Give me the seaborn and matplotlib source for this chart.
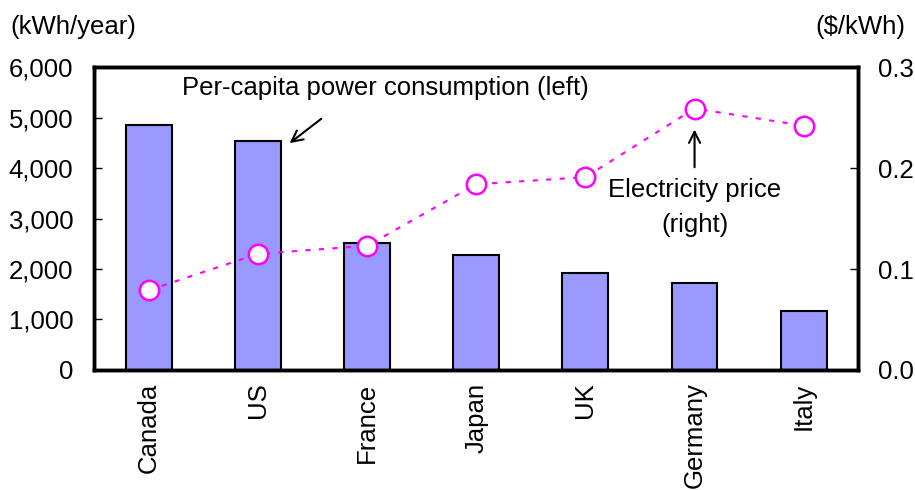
import numpy as np
import pandas as pd
import matplotlib
matplotlib.use("Agg")
import matplotlib.pyplot as plt
import seaborn as sns
from matplotlib.ticker import FuncFormatter, FixedLocator

countries = ["Canada", "US", "France", "Japan", "UK", "Germany", "Italy"]
consumption = [4850, 4530, 2520, 2280, 1920, 1720, 1170]   # kWh/year
price = [0.079, 0.115, 0.123, 0.184, 0.191, 0.259, 0.242]  # $/kWh

sns.set_style("white")
plt.rcParams["font.family"] = ["Liberation Sans", "DejaVu Sans"]
plt.rcParams["text.color"] = "black"
plt.rcParams["xtick.color"] = "black"
plt.rcParams["ytick.color"] = "black"

FS = 18.5

df = pd.DataFrame({"country": countries, "kwh": consumption, "price": price})

fig = plt.figure(figsize=(9.15, 4.9), dpi=100)
ax = fig.add_subplot(111)
fig.subplots_adjust(left=0.103, right=0.938, top=0.863, bottom=0.245)

sns.barplot(data=df, x="country", y="kwh", ax=ax, color="#9999FF",
            edgecolor="black", linewidth=1.5, width=0.42, saturation=1)

ax.set_xlim(-0.5, 6.5)
ax.set_ylim(0, 6000)
ax.set_yticks(np.arange(0, 6001, 1000))
ax.yaxis.set_major_formatter(FuncFormatter(lambda v, _: f"{int(v):,}"))
ax.set_xlabel("")
ax.set_ylabel("")

# category boundary ticks on x
ax.xaxis.set_minor_locator(FixedLocator(np.arange(0.5, 6.5, 1)))
ax.tick_params(axis="x", which="major", length=0, labelsize=FS, rotation=90, pad=9)
ax.tick_params(axis="x", which="minor", direction="in", length=6, width=1)
ax.tick_params(axis="y", direction="in", length=6, width=1, labelsize=FS, pad=15)

ax2 = ax.twinx()
ax2.plot(np.arange(len(countries)), df["price"], color="#FF00FF", lw=1.5,
         ls=(0, (2.5, 4)), marker="o", ms=14, mfc="white", mec="#FF00FF", mew=1.8)
ax2.set_ylim(0, 0.3)
ax2.set_yticks([0.0, 0.1, 0.2, 0.3])
ax2.yaxis.set_major_formatter(FuncFormatter(lambda v, _: f"{v:.1f}"))
ax2.tick_params(axis="y", direction="in", length=6, width=1, labelsize=FS, pad=14)

for a in (ax, ax2):
    for s in a.spines.values():
        s.set_linewidth(2.5)
        s.set_color("black")

fig.text(0.011, 0.945, "(kWh/year)", fontsize=FS, ha="left", va="center")
fig.text(0.99, 0.945, "($/kWh)", fontsize=FS, ha="right", va="center")

ax.text(0.3, 5580, "Per-capita power consumption (left)", fontsize=FS,
        ha="left", va="center")
ax.annotate("", xy=(1.27, 4460), xytext=(1.6, 5010),
            arrowprops=dict(arrowstyle="->", color="black", lw=1.5, mutation_scale=20))

ax2.annotate("", xy=(5.0, 0.241), xytext=(5.0, 0.198),
             arrowprops=dict(arrowstyle="->", color="black", lw=1.5, mutation_scale=20))
ax2.text(5.0, 0.178, "Electricity price", fontsize=FS, ha="center", va="center")
ax2.text(5.0, 0.1436, "(right)", fontsize=FS, ha="center", va="center")

fig.savefig("out.png", dpi=100)
